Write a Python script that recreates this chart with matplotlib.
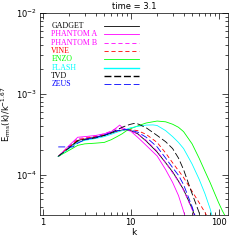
import numpy as np
import matplotlib
matplotlib.use("Agg")
import matplotlib.pyplot as plt
from matplotlib.ticker import FixedLocator, FixedFormatter, LogLocator, NullFormatter

plt.rcParams["lines.scale_dashes"] = False
plt.rcParams["font.family"] = ["DejaVu Sans"]

# spectra (k, E)
k_gadget = [1.5, 2, 2.5, 3, 4, 5, 6, 7, 8, 9, 10, 12, 15, 20, 25, 30, 35, 40, 50, 60]
e_gadget = [1.68e-4, 2.15e-4, 2.65e-4, 2.75e-4, 2.9e-4, 3.05e-4, 3.25e-4, 3.45e-4, 3.55e-4, 3.6e-4,
            3.5e-4, 3.2e-4, 2.6e-4, 1.9e-4, 1.4e-4, 1.08e-4, 8.3e-5, 6.5e-5, 3.8e-5, 2.2e-5]

k_phanA = [1.5, 2, 2.5, 3, 4, 5, 6, 7, 7.5, 8, 9, 10, 12, 15, 20, 25, 30, 35, 40, 45]
e_phanA = [1.68e-4, 2.3e-4, 2.9e-4, 2.95e-4, 3.05e-4, 3.2e-4, 3.4e-4, 3.85e-4, 4.1e-4, 3.85e-4,
           3.6e-4, 3.45e-4, 2.9e-4, 2.3e-4, 1.7e-4, 1.15e-4, 8e-5, 5.5e-5, 3.5e-5, 2.3e-5]

k_phanB = [1.5, 2, 2.5, 3, 4, 5, 6, 7, 8, 9, 10, 12, 15, 20, 25, 30, 35, 40, 50, 60]
e_phanB = [1.68e-4, 2.25e-4, 2.8e-4, 2.85e-4, 3.0e-4, 3.2e-4, 3.45e-4, 3.75e-4, 3.7e-4, 3.55e-4,
           3.45e-4, 3.2e-4, 2.65e-4, 1.95e-4, 1.4e-4, 1.05e-4, 8.2e-5, 6.4e-5, 3.7e-5, 2.2e-5]

k_vine = [1.5, 2, 2.5, 3, 4, 5, 6, 7, 8, 9, 10, 12, 15, 20, 25, 30, 35, 40, 50, 60, 70, 80]
e_vine = [1.68e-4, 2.2e-4, 2.7e-4, 2.8e-4, 2.95e-4, 3.1e-4, 3.3e-4, 3.45e-4, 3.55e-4, 3.6e-4,
          3.6e-4, 3.5e-4, 3.15e-4, 2.5e-4, 1.85e-4, 1.4e-4, 1.12e-4, 9.2e-5, 6.2e-5, 4.5e-5, 3.4e-5, 2.6e-5]

k_enzo = [1.5, 2, 2.5, 3, 4, 5, 6, 7, 8, 9, 10, 12, 15, 20, 25, 30, 35, 40, 50, 60, 70, 80, 90, 100, 110, 120, 128]
e_enzo = [1.68e-4, 2.0e-4, 2.3e-4, 2.4e-4, 2.45e-4, 2.5e-4, 2.7e-4, 2.95e-4, 3.2e-4, 3.5e-4,
          3.7e-4, 4.0e-4, 4.35e-4, 4.6e-4, 4.5e-4, 4.2e-4, 3.85e-4, 3.4e-4, 2.4e-4, 1.6e-4,
          1.1e-4, 8.0e-5, 5.9e-5, 4.5e-5, 3.6e-5, 3.0e-5, 2.6e-5]

k_flash = [1.5, 2, 2.5, 3, 4, 5, 6, 7, 8, 9, 10, 12, 15, 18, 20, 25, 30, 35, 40, 50, 60, 70, 80, 90]
e_flash = [1.68e-4, 2.1e-4, 2.5e-4, 2.65e-4, 2.8e-4, 2.95e-4, 3.15e-4, 3.35e-4, 3.5e-4, 3.65e-4,
           3.8e-4, 3.95e-4, 4.1e-4, 4.12e-4, 4.05e-4, 3.5e-4, 2.95e-4, 2.5e-4, 2.1e-4, 1.35e-4,
           8.8e-5, 5.8e-5, 3.8e-5, 2.4e-5]

k_tvd = [1.5, 2, 2.5, 3, 4, 5, 6, 7, 8, 9, 10, 11, 12, 15, 20, 25, 30, 35, 40, 50, 60, 70]
e_tvd = [1.68e-4, 2.15e-4, 2.6e-4, 2.7e-4, 2.85e-4, 3.05e-4, 3.3e-4, 3.6e-4, 3.85e-4, 4.05e-4,
         4.2e-4, 4.3e-4, 4.25e-4, 3.8e-4, 3.05e-4, 2.55e-4, 2.1e-4, 1.6e-4, 1.15e-4, 5.8e-5, 3.4e-5, 2.0e-5]

k_zeus = [1.5, 2, 2.2, 2.5, 3, 4, 5, 6, 7, 8, 9, 10, 12, 15, 20, 25, 30, 35, 40, 50, 60]
e_zeus = [2.2e-4, 2.2e-4, 2.2e-4, 2.45e-4, 2.7e-4, 2.9e-4, 3.1e-4, 3.3e-4, 3.5e-4, 3.6e-4, 3.6e-4,
          3.55e-4, 3.35e-4, 2.9e-4, 2.2e-4, 1.6e-4, 1.22e-4, 9.8e-5, 7.5e-5, 4.0e-5, 2.2e-5]

labels = ["GADGET", "PHANTOM A", "PHANTOM B", "VINE", "ENZO", "FLASH", "TVD", "ZEUS"]
colors = ["black", "#ff00ff", "#ff00ff", "#ff0000", "#00ff00", "#00ffff", "black", "#0000ff"]
dashes = [None, None, (3, 2), (3, 2), None, None, (5, 2), (5, 2)]
series = [(k_gadget, e_gadget), (k_phanA, e_phanA), (k_phanB, e_phanB), (k_vine, e_vine),
          (k_enzo, e_enzo), (k_flash, e_flash), (k_tvd, e_tvd), (k_zeus, e_zeus)]

fig = plt.figure(figsize=(2.41, 2.41), dpi=100)
ax = fig.add_axes([0.166, 0.108, 0.780, 0.838])

for (kk, ee), lab, c, d in zip(series, labels, colors, dashes):
    line, = ax.plot(kk, ee, color=c, lw=0.6)
    if d is not None:
        line.set_dashes(d)

ax.set_xscale("log")
ax.set_yscale("log")
ax.set_xlim(0.93, 128)
ax.set_ylim(10 ** -4.5, 1e-2)

ax.xaxis.set_major_locator(FixedLocator([1, 10, 100]))
ax.xaxis.set_major_formatter(FixedFormatter(["1", "10", "100"]))
ax.xaxis.set_minor_locator(LogLocator(base=10, subs=np.arange(2, 10)))
ax.xaxis.set_minor_formatter(NullFormatter())
ax.yaxis.set_minor_locator(LogLocator(base=10, subs=np.arange(2, 10)))
ax.yaxis.set_minor_formatter(NullFormatter())

ax.tick_params(which="both", direction="in", top=True, right=True, width=0.5, labelsize=6, pad=2)
ax.tick_params(which="major", length=4.5)
ax.tick_params(which="minor", length=2.2)
for s in ax.spines.values():
    s.set_linewidth(0.5)

ax.set_xlabel("k", fontsize=6.5, labelpad=1)
ax.set_ylabel(r"$\mathregular{E_{rms}(k)/k^{-1.67}}$", fontsize=6, labelpad=2)
ax.set_title("time = 3.1", fontsize=6, pad=3)

# legend: coloured names on the left, line samples on the right
y0 = 0.935
dy = 0.041
for i, (lab, c, d) in enumerate(zip(labels, colors, dashes)):
    yy = y0 - i * dy
    ax.text(0.06, yy, lab, color=c, fontsize=5.7, family="Liberation Serif",
            transform=ax.transAxes, va="center", ha="left")
    lw = 1.0 if lab in ("FLASH", "TVD") else 0.6
    line, = ax.plot([0.34, 0.527], [yy, yy], color=c, lw=lw, transform=ax.transAxes)
    if d is not None:
        line.set_dashes(d)

fig.savefig("out.png", dpi=100)
